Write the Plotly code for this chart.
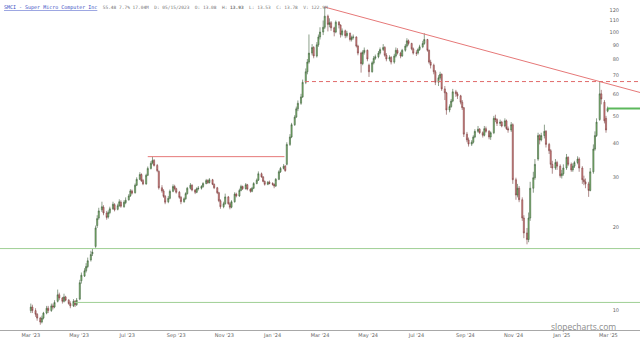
import numpy as np
import pandas as pd
import plotly.graph_objects as go

# SMCI, 2-trading-day candles from Mar 2023 to Feb 2025 (one row per month)
open_ = [
    10.0, 10.3, 10.0, 9.7, 9.4, 9.1, 9.4, 9.8, 10.2, 10.0, 10.4, 10.3,
    10.8, 11.4, 11.1, 10.8, 11.2, 10.9, 10.6, 10.4, 10.8, 10.5,
    11.0, 12.8, 13.3, 13.9, 14.4, 15.2, 16.0, 17.0, 20.2, 21.5, 23.0,
    23.5, 22.4, 21.7, 22.5, 23.2, 24.0, 23.1, 23.8, 24.5, 23.6, 24.4,
    25.0, 25.8, 26.9, 26.5, 28.2, 29.6, 30.8, 29.3, 28.5, 30.6, 32.4,
    33.9, 34.6, 33.2, 31.6, 27.6, 26.9, 25.7, 24.6, 25.3, 26.8, 27.9,
    27.4, 26.6, 25.5, 24.6, 25.2, 26.3, 27.5, 28.2, 27.1, 26.6, 27.4,
    27.5, 27.9, 28.6, 29.3, 28.8, 29.5, 28.4, 27.6, 26.5, 24.8, 23.6,
    24.2, 25.6, 24.2, 23.5, 24.6, 26.2, 25.8, 27.0, 27.9, 27.4, 28.3,
    27.3, 26.8, 27.5, 28.6, 29.4, 31.0, 30.2, 29.1, 28.4, 28.9,
    28.6, 28.4, 28.0, 29.6, 31.5, 32.4, 33.0, 33.5, 39.5, 42.0, 46.5, 49.5,
    53.0, 55.5, 58.5, 66.0, 72.0, 78.0, 84.0, 88.0, 82.0, 90.0,
    96.0, 100.0, 104.0, 114.0, 106.5, 108.0, 103.5, 100.0, 108.5, 106.0, 98.0,
    101.0, 97.0, 99.0, 94.0, 95.5, 96.0, 89.0, 84.0, 77.0, 84.5, 86.0,
    76.0, 72.0, 77.5, 80.5, 81.5, 84.0, 86.5, 88.0, 82.5, 80.0, 81.0,
    78.0, 82.0, 86.0, 84.0, 82.0, 86.0, 89.0, 93.0, 91.0, 87.0,
    84.0, 84.0, 86.5, 88.5, 91.0, 94.0, 86.0, 78.0, 76.0, 72.0, 66.0, 68.5,
    70.5, 62.5, 60.5, 52.5, 54.0, 56.5, 61.0, 60.0, 59.0, 56.0, 53.5,
    43.0, 41.0, 39.6, 40.2, 42.0, 44.0, 44.8, 43.5, 42.6, 45.0,
    44.0, 42.0, 43.5, 49.0, 48.5, 47.0, 47.5, 46.0, 48.0, 45.0, 44.5, 46.5,
    29.5, 26.0, 27.5, 25.0, 21.5, 19.0, 18.0, 21.5, 27.5, 30.0,
    35.0, 42.5, 41.0, 42.5, 44.0, 39.5, 37.5, 33.5, 32.5, 34.0, 33.0,
    30.5, 31.0, 32.5, 35.5, 33.5, 32.0, 33.0, 34.0, 35.0, 32.5, 29.5, 29.0,
    28.5, 27.0, 31.5, 38.0, 42.5, 48.5, 60.0, 56.0, 49.0, 52.0,
]
high = [
    10.6, 10.5, 10.2, 9.8, 9.5, 9.6, 9.9, 10.4, 10.4, 10.6, 10.6, 10.9,
    11.9, 11.6, 11.2, 11.5, 11.3, 11.0, 10.8, 11.0, 10.9, 11.1,
    12.9, 13.7, 14.2, 14.8, 15.5, 16.4, 16.7, 20.2, 22.0, 23.4, 24.6,
    23.9, 22.8, 22.9, 23.6, 24.6, 24.3, 24.2, 25.1, 24.9, 24.9, 25.5,
    26.2, 27.3, 27.2, 28.6, 30.1, 31.4, 31.1, 29.7, 31.0, 32.9, 34.4,
    35.7, 35.0, 33.6, 31.9, 28.2, 27.3, 26.0, 25.8, 27.2, 28.4, 28.3,
    27.6, 26.9, 25.8, 25.5, 26.6, 27.8, 28.7, 28.4, 27.3, 27.7, 28.0,
    28.2, 28.9, 29.7, 29.6, 29.9, 29.7, 28.6, 27.8, 26.7, 25.1, 24.6,
    26.3, 25.8, 24.5, 24.9, 26.6, 26.5, 27.4, 28.3, 28.1, 28.7, 28.5,
    27.5, 27.8, 28.9, 29.8, 31.6, 31.3, 30.4, 29.3, 29.2, 29.3,
    28.9, 28.6, 29.9, 31.9, 32.8, 33.6, 33.3, 40.2, 43.0, 47.2, 50.3, 54.0,
    56.8, 60.0, 67.5, 74.0, 80.0, 98.0, 90.5, 89.0, 92.0, 98.0,
    104.0, 110.0, 122.9, 115.5, 112.0, 109.5, 104.5, 110.0, 109.5, 106.5, 103.0,
    102.0, 101.0, 99.5, 97.0, 98.0, 96.5, 90.0, 85.0, 86.0, 88.0, 86.5,
    77.0, 78.5, 82.0, 83.0, 85.5, 88.0, 90.5, 89.0, 84.0, 82.5, 82.0,
    83.5, 88.0, 87.5, 85.0, 87.0, 90.5, 95.0, 94.0, 91.5, 88.0,
    86.0, 87.5, 90.0, 93.0, 99.0, 94.5, 86.5, 79.5, 77.0, 73.0, 70.0, 72.0,
    71.0, 64.0, 61.0, 55.0, 57.5, 62.5, 62.0, 61.0, 59.5, 57.0, 53.8,
    43.8, 41.8, 40.9, 42.6, 44.8, 46.0, 45.2, 44.0, 46.0, 45.8,
    44.5, 44.0, 50.0, 50.5, 49.0, 48.5, 48.0, 49.0, 48.5, 45.8, 47.5, 47.0,
    30.0, 28.5, 28.0, 25.5, 22.0, 19.8, 22.5, 29.0, 31.5, 35.0,
    43.5, 43.0, 43.5, 46.5, 44.5, 40.0, 38.0, 34.5, 35.0, 34.5, 33.5,
    32.0, 33.5, 36.5, 35.8, 34.0, 33.8, 34.5, 35.8, 35.5, 33.0, 30.5, 29.8,
    29.0, 32.5, 39.5, 44.0, 49.0, 66.4, 62.0, 57.0, 50.0, 54.0,
]
low = [
    9.8, 9.8, 9.5, 9.2, 8.9, 9.0, 9.3, 9.7, 9.8, 9.9, 10.1, 10.2,
    10.7, 10.9, 10.6, 10.7, 10.8, 10.5, 10.2, 10.3, 10.3, 10.4,
    10.9, 12.5, 13.2, 13.7, 14.2, 15.0, 15.7, 16.8, 19.8, 21.2, 22.6,
    22.0, 21.2, 21.4, 22.2, 23.0, 22.7, 22.9, 23.6, 23.4, 23.4, 24.1,
    24.8, 25.6, 26.1, 26.3, 28.0, 29.4, 29.0, 28.2, 28.3, 30.4, 32.1,
    33.5, 32.9, 31.4, 27.2, 26.5, 25.4, 24.1, 24.3, 25.1, 26.6, 27.0,
    26.3, 25.2, 24.1, 24.4, 25.0, 26.1, 27.2, 26.8, 26.2, 26.4, 27.0,
    27.2, 27.6, 28.4, 28.5, 28.6, 28.2, 27.3, 26.2, 24.5, 23.2, 23.3,
    24.0, 24.0, 23.1, 23.3, 24.4, 25.5, 25.6, 26.8, 27.1, 27.2, 27.0,
    26.5, 26.6, 27.3, 28.4, 29.2, 30.0, 28.9, 28.1, 28.2, 28.4,
    28.1, 27.5, 27.8, 29.4, 31.2, 32.1, 31.5, 33.2, 39.0, 41.6, 46.0, 49.2,
    52.0, 54.8, 58.0, 65.0, 70.5, 77.0, 82.5, 80.5, 81.0, 88.5,
    94.0, 97.5, 102.5, 100.5, 104.0, 101.0, 96.5, 99.0, 103.0, 95.5, 96.5,
    95.0, 95.5, 92.5, 92.5, 94.0, 88.0, 82.5, 71.5, 76.0, 83.0, 78.5,
    69.0, 71.5, 76.5, 79.5, 80.5, 83.0, 85.5, 81.5, 78.5, 78.5, 76.5,
    77.0, 81.0, 83.0, 80.5, 81.5, 85.0, 88.0, 89.5, 86.0, 83.0,
    82.0, 83.0, 85.5, 87.5, 90.0, 85.0, 77.0, 74.0, 70.5, 64.5, 64.0, 67.5,
    61.5, 57.0, 50.5, 51.5, 53.5, 56.0, 58.5, 57.5, 55.0, 52.5, 42.0,
    40.2, 38.8, 39.0, 39.8, 41.6, 43.5, 43.0, 41.8, 42.2, 43.5,
    41.2, 41.0, 43.0, 47.5, 46.0, 46.0, 45.5, 45.5, 44.5, 43.5, 43.8, 28.5,
    25.0, 25.5, 24.5, 21.0, 18.2, 17.3, 17.6, 21.0, 26.5, 29.5,
    34.5, 39.5, 40.5, 41.5, 38.5, 36.5, 32.5, 31.0, 32.0, 32.0, 30.0,
    29.8, 30.5, 32.0, 33.0, 31.5, 31.5, 32.5, 33.5, 31.5, 28.5, 28.2, 27.5,
    25.6, 26.8, 31.0, 37.5, 42.0, 48.0, 55.0, 47.0, 43.5, 51.5,
]
close = [
    10.3, 10.0, 9.7, 9.4, 9.1, 9.4, 9.8, 10.2, 10.0, 10.4, 10.3, 10.7,
    11.4, 11.1, 10.8, 11.2, 10.9, 10.6, 10.4, 10.8, 10.5, 10.9,
    12.6, 13.4, 13.9, 14.4, 15.1, 15.9, 16.2, 19.8, 21.4, 22.8, 23.6,
    22.4, 21.6, 22.5, 23.2, 24.1, 23.0, 23.8, 24.6, 23.7, 24.5, 24.9,
    25.8, 26.9, 26.4, 28.2, 29.6, 30.8, 29.2, 28.5, 30.6, 32.4, 33.8,
    34.6, 33.2, 31.8, 27.6, 26.9, 25.7, 24.5, 25.3, 26.8, 27.9, 27.4,
    26.6, 25.5, 24.6, 25.2, 26.3, 27.5, 28.2, 27.1, 26.6, 27.4, 27.5,
    27.9, 28.6, 29.3, 28.8, 29.5, 28.4, 27.6, 26.5, 24.8, 23.6, 24.2,
    25.6, 24.2, 23.5, 24.6, 26.2, 25.8, 27.0, 27.9, 27.4, 28.3, 27.3,
    26.8, 27.5, 28.6, 29.4, 31.0, 30.2, 29.1, 28.4, 28.9, 28.6,
    28.4, 28.0, 29.6, 31.5, 32.4, 33.0, 31.8, 39.5, 42.0, 46.5, 49.5, 53.0,
    55.5, 58.5, 66.0, 72.0, 78.0, 84.0, 88.0, 82.0, 90.0, 96.0,
    100.0, 104.0, 114.0, 106.5, 108.0, 103.5, 100.0, 108.5, 106.0, 98.0, 101.0,
    97.0, 99.0, 94.0, 95.5, 96.0, 89.0, 84.0, 77.0, 84.5, 86.0, 80.0,
    72.0, 77.5, 80.5, 81.5, 84.0, 86.5, 88.0, 82.5, 80.0, 81.0, 78.0,
    82.0, 86.0, 84.0, 82.0, 86.0, 89.0, 93.0, 91.0, 87.0, 84.0,
    84.0, 86.5, 88.5, 91.0, 94.0, 86.0, 78.0, 76.0, 72.0, 66.0, 68.5, 70.5,
    62.5, 60.5, 52.5, 54.0, 56.5, 61.0, 60.0, 59.0, 56.0, 53.5, 43.0,
    41.0, 39.6, 40.2, 42.0, 44.0, 44.8, 43.5, 42.6, 45.0, 44.0,
    42.0, 43.5, 49.0, 48.5, 47.0, 47.5, 46.0, 48.0, 45.0, 44.5, 46.5, 29.5,
    26.0, 27.5, 25.0, 21.5, 19.0, 18.0, 21.5, 27.5, 30.0, 33.5,
    42.5, 41.0, 42.5, 44.0, 39.5, 37.5, 33.5, 32.5, 34.0, 33.0, 30.5,
    31.0, 32.5, 35.5, 33.5, 32.0, 33.0, 34.0, 35.0, 32.5, 29.5, 29.0, 28.5,
    27.0, 31.5, 38.0, 42.5, 47.5, 60.0, 57.5, 48.0, 44.5, 53.2,
]

# Drawn levels (price values)
resistance_2023 = 35.7      # Aug 2023 high
resistance_span = ["2023-07-27", "2024-01-16"]
feb25_high = 66.4           # dashed level
feb25_span_start = "2024-02-11"
support_upper = 16.7
support_lower = 10.7
support_lower_start = "2023-04-25"
last_close = 53.2
trend_points_x = ["2024-03-07", "2025-02-18"]
trend_points_y = [122.9, 66.4]

x_range = ["2023-01-21", "2025-04-10"]
y_ticks = [10, 20, 30, 40, 50, 60, 70, 80, 90, 100, 110, 120]
x_tick_dates = ["2023-03-01", "2023-05-01", "2023-07-01", "2023-09-01", "2023-11-01",
                "2024-01-01", "2024-03-01", "2024-05-01", "2024-07-01", "2024-09-01",
                "2024-11-01", "2025-01-01", "2025-03-01"]
x_tick_text = ["Mar '23", "May '23", "Jul '23", "Sep '23", "Nov '23", "Jan '24", "Mar '24",
               "May '24", "Jul '24", "Sep '24", "Nov '24", "Jan '25", "Mar '25"]

header_name = "SMCI - Super Micro Computer Inc"
header_fields = ["55.48 7.7% 17.04M", "D: 05/15/2023", "O: 13.08", "H: <b>13.93</b>",
                 "L: 13.53", "C: 13.78", "V: 122.9M"]

n = len(close)
dates = pd.bdate_range("2023-03-01", periods=2 * n, freq="B")[::2]

fig = go.Figure()
fig.add_trace(go.Candlestick(
    x=dates, open=open_, high=high, low=low, close=close,
    increasing=dict(line=dict(color="#3f5f3c", width=0.6), fillcolor="#83c272"),
    decreasing=dict(line=dict(color="#7a4040", width=0.6), fillcolor="#e38585"),
    whiskerwidth=0, showlegend=False, hoverinfo="skip",
))

red = "#e67878"
green = "#9fcf95"

# trend line through the two highs, extended to right edge
t0 = pd.Timestamp(trend_points_x[0])
t1 = pd.Timestamp(trend_points_x[1])
tr = pd.Timestamp(x_range[1])
lnslope = (np.log(trend_points_y[1]) - np.log(trend_points_y[0])) / (t1 - t0).days
y_end = float(np.exp(np.log(trend_points_y[0]) + lnslope * (tr - t0).days))
fig.add_trace(go.Scatter(x=[t0, tr], y=[trend_points_y[0], y_end], mode="lines",
                         line=dict(color=red, width=1), hoverinfo="skip", showlegend=False))
fig.add_trace(go.Scatter(x=resistance_span, y=[resistance_2023] * 2, mode="lines",
                         line=dict(color=red, width=1), hoverinfo="skip", showlegend=False))
fig.add_trace(go.Scatter(x=[feb25_span_start, x_range[1]], y=[feb25_high] * 2, mode="lines",
                         line=dict(color="#e06a6a", width=1, dash="4px,3px"), hoverinfo="skip",
                         showlegend=False))
fig.add_trace(go.Scatter(x=x_range, y=[support_upper] * 2, mode="lines",
                         line=dict(color=green, width=1), hoverinfo="skip", showlegend=False))
fig.add_trace(go.Scatter(x=[support_lower_start, x_range[1]], y=[support_lower] * 2, mode="lines",
                         line=dict(color=green, width=1), hoverinfo="skip", showlegend=False))
fig.add_trace(go.Scatter(x=[dates[-1], x_range[1]], y=[last_close] * 2, mode="lines",
                         line=dict(color="#5cb85c", width=2), hoverinfo="skip", showlegend=False))

gap = "&nbsp; "
header_text = ('<span style="color:#3b4fc4;font-size:5px"><u>' + header_name + '</u></span>'
               + "&nbsp;&nbsp;" + gap.join(header_fields))

fig.update_layout(
    width=640, height=341,
    margin=dict(l=0, r=0, t=0, b=11),
    paper_bgcolor="white", plot_bgcolor="white",
    boxgap=0,
    hovermode=False,
    showlegend=False,
    xaxis=dict(type="date", range=x_range, rangeslider=dict(visible=False),
               showgrid=False, zeroline=False, showline=True, linecolor="#a8a8a8", linewidth=1,
               tickvals=x_tick_dates, ticktext=x_tick_text, ticks="",
               tickfont=dict(size=5, color="#666", family="DejaVu Sans")),
    yaxis=dict(type="log", range=[np.log10(8.52), np.log10(130.3)], side="right",
               ticklabelposition="inside", ticklabelstandoff=18,
               tickvals=y_ticks, ticktext=[str(v) for v in y_ticks], ticks="",
               showgrid=False, zeroline=False, showline=False,
               tickfont=dict(size=5, color="#666", family="DejaVu Sans")),
    annotations=[
        dict(xref="paper", yref="paper", x=0.003, y=1, xanchor="left", yanchor="top", yshift=-2,
             showarrow=False, align="left", text=header_text,
             font=dict(size=4.5, color="#777", family="DejaVu Sans Mono")),
        dict(xref="paper", yref="paper", x=0.912, y=0.012, xanchor="center", yanchor="middle",
             showarrow=False, text="slopecharts.com",
             font=dict(size=8.5, color="#8c8c8c", family="Open Sans")),
    ],
)

fig.write_html("out.html", config={"displayModeBar": False})
